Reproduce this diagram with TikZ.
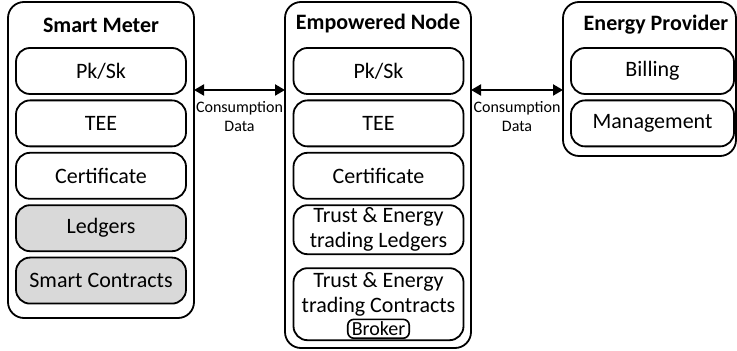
\documentclass[tikz,border=0pt]{standalone}
\usepackage{fontspec}
\setmainfont{Carlito}
\usetikzlibrary{positioning,arrows.meta}
\definecolor{ledgergray}{RGB}{217,217,217}

\begin{document}
\begin{tikzpicture}[x=0.5pt,y=-0.5pt]

\tikzstyle{outerbox}=[draw, line width=0.9pt, rounded corners=8pt, minimum width=93pt, inner sep=0pt, outer sep=0pt]
\tikzstyle{innerbox}=[draw, line width=0.9pt, rounded corners=7pt, minimum width=85pt, minimum height=23pt, inner sep=1pt, outer sep=0pt, align=center, font=\fontsize{11}{12.5}\selectfont]
\tikzstyle{graybox}=[innerbox, fill=ledgergray]
\tikzstyle{brokerbox}=[draw, line width=0.8pt, rounded corners=3pt, inner xsep=2pt, inner ysep=1.2pt, outer sep=0pt, font=\fontsize{10}{12}\selectfont]
\tikzstyle{title}=[font=\fontsize{11}{13}\selectfont\bfseries]
\tikzstyle{dataarrow}=[{Triangle[length=5pt,width=5.5pt]}-{Triangle[length=5pt,width=5.5pt]}, line width=1pt]
\tikzstyle{datalabel}=[font=\fontsize{8}{9.5}\selectfont, align=center, inner sep=2pt, yshift=-3pt]

\useasboundingbox (0,0) rectangle (737,351);

% the three parties
\node[outerbox, minimum height=158pt] (sm) at (101,160) {};
\node[outerbox, minimum height=173pt] (en) at (378,175) {};
\node[outerbox, minimum width=86.5pt, minimum height=77pt] (ep) at (649.5,79) {};

\node[title] (smtitle) at (101,25) {Smart Meter};
\node[title] (entitle) at (378,24) {Empowered Node};
\node[title] (eptitle) at (656,25) {Energy Provider};

% common parts
\foreach \part/\x in {sm/101, en/378.5} {
    \node[innerbox] (\part-key) at (\x,71) {Pk/Sk};
    \node[innerbox, below=3.2pt of \part-key] (\part-tee) {TEE};
    \node[innerbox, below=3.2pt of \part-tee] (\part-cert) {Certificate};
}

\node[graybox, below=3.2pt of sm-cert] (sm-ledger) {Ledgers};
\node[graybox, below=3.2pt of sm-ledger] (sm-contract) {Smart Contracts};

\node[innerbox, minimum height=24.5pt, below=3.2pt of en-cert] (en-ledger) {Trust \& Energy\\trading Ledgers};
\node[innerbox, minimum height=36pt, below=7pt of en-ledger] (en-contract) {};
\node[align=center, inner sep=0pt, font=\fontsize{11}{12.5}\selectfont, below=2pt of en-contract.north] (en-contracttext) {Trust \& Energy\\trading Contracts};
\node[brokerbox, above=1pt of en-contract.south] (broker) {Broker};

\node[innerbox, minimum width=81.5pt] (ep-bill) at (652.5,71) {Billing};
\node[innerbox, minimum width=81.5pt, below=3.2pt of ep-bill] (ep-manage) {Management};

% data flows
\draw[dataarrow] ([yshift=-44pt]sm.north east) -- node[datalabel, below] (smdata) {Consumption\\Data} ([yshift=-44pt]en.north west);
\draw[dataarrow] ([yshift=-44pt]en.north east) -- node[datalabel, below] (epdata) {Consumption\\Data} ([yshift=-44pt]ep.north west);

\end{tikzpicture}
\end{document}
